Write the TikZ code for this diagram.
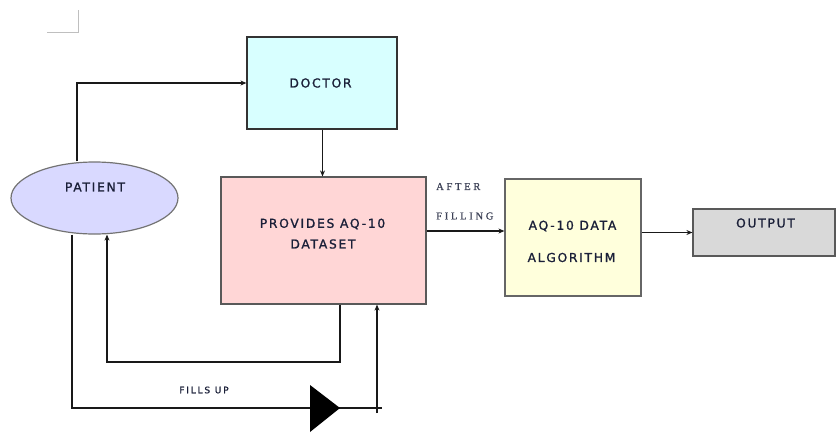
\documentclass[tikz,border=0pt]{standalone}
\usepackage{fontspec}
\usetikzlibrary{arrows.meta,shapes.geometric}
\newfontfamily\boxfont{DejaVu Sans}[LetterSpace=14,FakeBold=1.2]
\newfontfamily\smallboxfont{DejaVu Sans}[LetterSpace=20,FakeBold=1.2]
\newfontfamily\serlabfont{Liberation Serif}[LetterSpace=26,FakeBold=0.8]
\definecolor{txt}{HTML}{1A1F38}
\definecolor{cdoc}{HTML}{D8FFFF}
\definecolor{cpat}{HTML}{D9D9FF}
\definecolor{cprov}{HTML}{FFD6D6}
\definecolor{calg}{HTML}{FFFFDC}
\definecolor{cout}{HTML}{D9D9D9}
\tikzset{
  box/.style={draw=black!80, line width=1.2pt, rectangle, inner sep=0pt},
  boxtext/.style={font=\boxfont\fontsize{12.3}{14}\selectfont, text=txt, inner sep=0pt},
  smalltext/.style={font=\smallboxfont\fontsize{9}{10}\selectfont, text=txt, inner sep=0pt},
  sertext/.style={font=\serlabfont\fontsize{10.5}{12}\selectfont, text=txt!85, inner sep=0pt},
  conn/.style={draw=black!90, line width=1.3pt},
  arr/.style={conn, -{Stealth[length=6pt,width=5pt]}},
}
\begin{document}
\begin{tikzpicture}[x=1pt,y=-1pt]
\useasboundingbox (0,0) rectangle (836,437);
% corner mark
\draw[black!25, line width=0.8pt] (47,32) -- (78,32) -- (78,10);
% nodes
\node[box, fill=cdoc, minimum width=150pt, minimum height=92pt] (doctor) at (322,83) {};
\node[box, fill=cprov, draw=black!65, minimum width=205pt, minimum height=127pt] (prov) at (323.5,240.5) {};
\node[box, fill=calg, draw=black!60, minimum width=136pt, minimum height=117pt] (algo) at (573,237.5) {};
\node[box, fill=cout, draw=black!65, minimum width=142pt, minimum height=47pt] (out) at (764,232.5) {};
\node[ellipse, draw=black!55, line width=1.2pt, fill=cpat, minimum width=167pt, minimum height=72pt, inner sep=0pt] (patient) at (94.5,198) {};
% texts
\node[boxtext] (tdoc) at (320.5,83) {DOCTOR};
\node[boxtext] (tpat) at (95,187) {PATIENT};
\node[boxtext] (tprov1) at (322.5,224) {PROVIDES AQ-10};
\node[boxtext] (tprov2) at (323,244) {DATASET};
\node[boxtext] (talg1) at (572.5,226) {AQ-10 DATA};
\node[boxtext] (talg2) at (571.5,257.5) {ALGORITHM};
\node[boxtext] (tout) at (765.5,223) {OUTPUT};
\node[sertext, anchor=west] (tafter) at (436,186.5) {AFTER};
\node[sertext, anchor=west] (tfill) at (436,216) {FILLING};
\node[smalltext] (tfills) at (204,390) {FILLS UP};
% connectors
\draw[arr] ([xshift=-17.5pt]patient.north) |- (doctor.west);
\draw[arr] ([xshift=0.5pt]doctor.south) -- ([xshift=-1pt]prov.north);
\draw[arr] ([yshift=9.5pt]prov.east) -- ([yshift=6.5pt]algo.west);
\draw[arr] (algo.east |- out.west) -- (out.west);
\coordinate (fbc) at (107,362);
\draw[arr] ([xshift=16.5pt]prov.south) |- (fbc) -- ([xshift=12.5pt]patient.south);
\coordinate (fua) at (72,408);
\coordinate (fub) at (382,408);
\coordinate (fuc) at (377,413);
\draw[conn] ([xshift=-22.5pt]patient.south) -- (fua) -- (fub);
\fill[black] (310,385) -- (340,408) -- (310,432) -- cycle;
\draw[arr] (fuc) -- (fuc |- prov.south);
\end{tikzpicture}
\end{document}
